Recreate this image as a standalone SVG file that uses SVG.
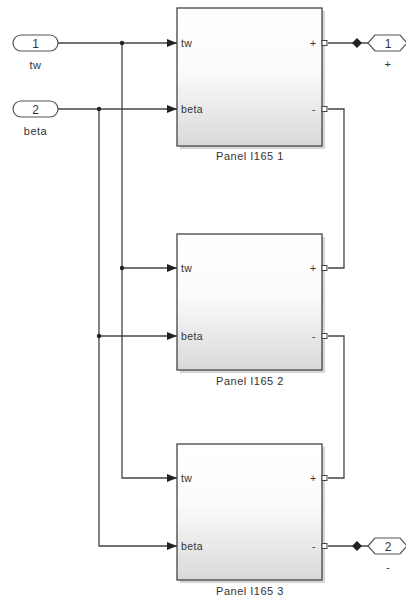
<svg xmlns="http://www.w3.org/2000/svg" width="406" height="606" viewBox="0 0 406 606">
<style>
text{font-family:"Liberation Sans",Arial,sans-serif;fill:#333}
.blk{fill:url(#g);stroke:#444;stroke-width:1.3}
.shd{fill:#bbb;opacity:0.6}
.w{fill:none;stroke:#444;stroke-width:1.3}
.port{fill:#fff;stroke:#555;stroke-width:1.2}
.sq{fill:#fff;stroke:#444;stroke-width:1}
.pl{font-size:10.5px;letter-spacing:0.4px}
.lb{font-size:11px;text-anchor:middle;letter-spacing:0.5px}
.num{font-size:12px;text-anchor:middle}
.dot{fill:#222}
</style>
<defs>
<linearGradient id="g" x1="0" y1="0" x2="0" y2="1">
<stop offset="0" stop-color="#ffffff"/>
<stop offset="0.45" stop-color="#fbfbfb"/>
<stop offset="1" stop-color="#d9d9d9"/>
</linearGradient>
<marker id="ar" markerWidth="10" markerHeight="8" refX="10" refY="4" orient="auto" markerUnits="userSpaceOnUse">
<path d="M0,0 L10,4 L0,8 Z" fill="#222"/>
</marker>
</defs>

<g id="connectors">
<path class="w" d="M58,43 H177" marker-end="url(#ar)"/>
<path class="w" d="M58,109 H177" marker-end="url(#ar)"/>
<path class="w" d="M122,43 V478 H177" marker-end="url(#ar)"/>
<path class="w" d="M122,268 H177" marker-end="url(#ar)"/>
<path class="w" d="M99,109 V546 H177" marker-end="url(#ar)"/>
<path class="w" d="M99,336 H177" marker-end="url(#ar)"/>
<path class="w" d="M328,43 H368"/>
<path class="w" d="M328,109 H344 V268 H328"/>
<path class="w" d="M328,336 H344 V478 H328"/>
<path class="w" d="M328,546 H368"/>
<circle class="dot" cx="122" cy="43" r="2.2"/>
<circle class="dot" cx="99" cy="109" r="2.2"/>
<circle class="dot" cx="122" cy="268" r="2.2"/>
<circle class="dot" cx="99" cy="336" r="2.2"/>
<path class="dot" d="M352,43 L357,38 L362,43 L357,48 Z"/>
<path class="dot" d="M352,546 L357,541 L362,546 L357,551 Z"/>
</g>

<g id="in1">
<rect class="port" x="13" y="35" width="45" height="16" rx="8"/>
<text class="num" x="35.5" y="47.5">1</text>
<text class="lb" x="35.5" y="69">tw</text>
</g>
<g id="in2">
<rect class="port" x="13" y="101" width="45" height="16" rx="8"/>
<text class="num" x="35.5" y="113.5">2</text>
<text class="lb" x="35.5" y="135">beta</text>
</g>

<g id="panel1">
<rect class="shd" x="180" y="11" width="145" height="138"/>
<rect class="blk" x="177" y="8" width="145" height="138"/>
<text class="pl" x="181" y="46.5">tw</text>
<text class="pl" x="181" y="112.5">beta</text>
<text class="pl" x="310" y="46.5">+</text>
<text class="pl" x="312" y="112.5">-</text>
<rect class="sq" x="322" y="40.5" width="5" height="5"/>
<rect class="sq" x="322" y="106.5" width="5" height="5"/>
<text class="lb" x="250" y="160">Panel I165 1</text>
</g>

<g id="panel2">
<rect class="shd" x="180" y="237" width="145" height="136"/>
<rect class="blk" x="177" y="234" width="145" height="136"/>
<text class="pl" x="181" y="271.5">tw</text>
<text class="pl" x="181" y="339.5">beta</text>
<text class="pl" x="310" y="271.5">+</text>
<text class="pl" x="312" y="339.5">-</text>
<rect class="sq" x="322" y="265.5" width="5" height="5"/>
<rect class="sq" x="322" y="333.5" width="5" height="5"/>
<text class="lb" x="250" y="385">Panel I165 2</text>
</g>

<g id="panel3">
<rect class="shd" x="180" y="447" width="145" height="136"/>
<rect class="blk" x="177" y="444" width="145" height="136"/>
<text class="pl" x="181" y="481.5">tw</text>
<text class="pl" x="181" y="549.5">beta</text>
<text class="pl" x="310" y="481.5">+</text>
<text class="pl" x="312" y="549.5">-</text>
<rect class="sq" x="322" y="475.5" width="5" height="5"/>
<rect class="sq" x="322" y="543.5" width="5" height="5"/>
<text class="lb" x="250" y="595">Panel I165 3</text>
</g>

<g id="out1">
<path class="port" d="M368,43 L375,35 L400,35 L407,43 L400,51 L375,51 Z"/>
<text class="num" x="388" y="47.5">1</text>
<text class="lb" x="388" y="68">+</text>
</g>
<g id="out2">
<path class="port" d="M368,546 L375,538 L400,538 L407,546 L400,554 L375,554 Z"/>
<text class="num" x="388" y="550.5">2</text>
<text class="lb" x="388" y="571">-</text>
</g>
</svg>
